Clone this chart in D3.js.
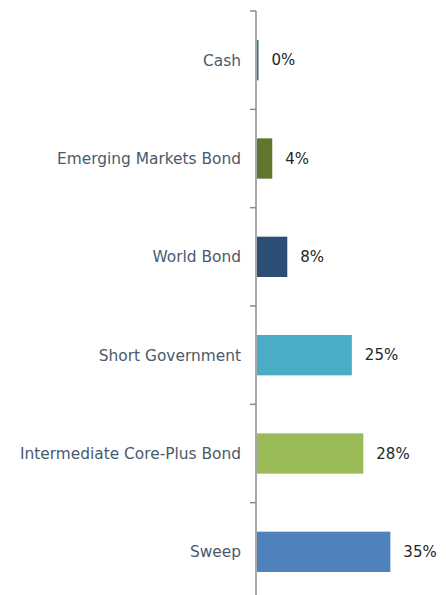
<!DOCTYPE html>
<html>
<head>
<meta charset="utf-8">
<script src="https://cdn.jsdelivr.net/npm/d3@7"></script>
<style>
  body { margin: 0; background: #fff; }
  svg text { font-family: "DejaVu Sans", sans-serif; }
</style>
</head>
<body>
<svg id="chart" width="446" height="595"></svg>
<script>
// Dữ liệu
const categories = ["Cash", "Emerging Markets Bond", "World Bond", "Short Government", "Intermediate Core-Plus Bond", "Sweep"];
const values = [0.4, 4.0, 7.95, 24.9, 27.9, 35.0];
const labels = ["0%", "4%", "8%", "25%", "28%", "35%"];
const colors = ["#2E7483", "#5F7530", "#2C4D75", "#4BACC6", "#9BBB59", "#4F81BD"];

const svg = d3.select("#chart");
const margin = { top: 11, left: 256 };
const innerH = 590;

const g = svg.append("g").attr("transform", `translate(${margin.left},${margin.top})`);

// Thang đo
const y = d3.scaleBand()
  .domain(categories)
  .range([0, innerH])
  .paddingInner(0.59)
  .paddingOuter(0.295);

const x = d3.scaleLinear()
  .domain([0, 40])
  .range([0, 152.4]);

// Cột
g.selectAll("rect")
  .data(categories)
  .enter()
  .append("rect")
  .attr("x", 1)
  .attr("y", d => y(d))
  .attr("width", (d, i) => x(values[i]))
  .attr("height", y.bandwidth())
  .attr("fill", (d, i) => colors[i]);

// Trục Y với vạch chia ở ranh giới nhóm
const step = y.step();
const axis = g.append("g");
axis.append("line")
  .attr("x1", 0).attr("x2", 0)
  .attr("y1", 0).attr("y2", innerH)
  .attr("stroke", "#8c8c8c")
  .attr("stroke-width", 1.5);
axis.selectAll(".tick")
  .data(d3.range(categories.length + 1))
  .enter()
  .append("line")
  .attr("x1", -6).attr("x2", 0)
  .attr("y1", i => i * step)
  .attr("y2", i => i * step)
  .attr("stroke", "#8c8c8c")
  .attr("stroke-width", 1.5);

// Nhãn danh mục
g.selectAll(".cat")
  .data(categories)
  .enter()
  .append("text")
  .attr("x", -15)
  .attr("y", d => y(d) + y.bandwidth() / 2)
  .attr("dy", "0.35em")
  .attr("text-anchor", "end")
  .attr("fill", "#4A5A6C")
  .style("font-size", "15.4px")
  .text(d => d);

// Nhãn giá trị
g.selectAll(".val")
  .data(categories)
  .enter()
  .append("text")
  .attr("x", (d, i) => x(values[i]) + 14)
  .attr("y", d => y(d) + y.bandwidth() / 2)
  .attr("dy", "0.35em")
  .attr("fill", "#262626")
  .style("font-size", "15px")
  .text((d, i) => labels[i]);
</script>
</body>
</html>
